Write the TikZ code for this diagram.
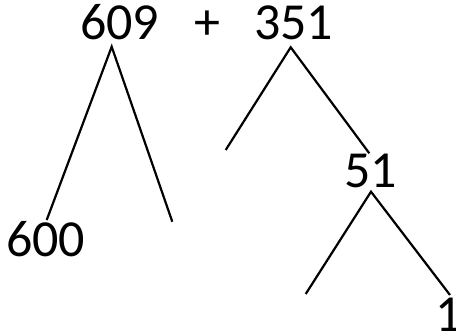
\documentclass[tikz,border=0pt]{standalone}
\usepackage{fontspec}
\newfontfamily\numfont{Carlito}
\begin{document}
\begin{tikzpicture}[x=1pt,y=-1pt,
  num/.style={inner sep=0pt, anchor=base west, font=\numfont\fontsize{52}{52}\selectfont},
  leg/.style={line width=2.2pt}]
\useasboundingbox (0,0) rectangle (456,334);
\node[num] (n609) at (80,40) {609};
\node[num, anchor=base] (plus) at (207,40) {+};
\node[num] (n351) at (254,40) {351};
\node[num] (n600) at (6,257) {600};
\node[num] (n51) at (344,188) {51};
\node[num] (n1) at (435,332) {1};
\coordinate (a609) at (111.7,46.7);
\coordinate (l609) at (46.7,220);
\coordinate (r609) at (172.3,221.7);
\coordinate (a351) at (290.7,47.3);
\coordinate (l351) at (225.7,150);
\coordinate (r351) at (369.3,153.3);
\coordinate (a51) at (371,191.7);
\coordinate (l51) at (305.7,294);
\coordinate (r51) at (450,295);
\draw[leg] (l609) -- (a609) -- (r609);
\draw[leg] (l351) -- (a351) -- (r351);
\draw[leg] (l51) -- (a51) -- (r51);
\end{tikzpicture}
\end{document}
